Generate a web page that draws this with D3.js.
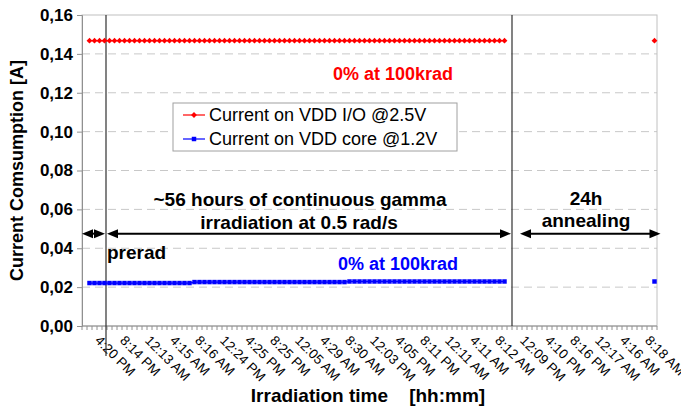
<!DOCTYPE html>
<html>
<head>
<meta charset="utf-8">
<script src="https://cdn.jsdelivr.net/npm/d3@7/dist/d3.min.js"></script>
<style>
  body { margin: 0; background: #fff; }
  svg { display: block; font-family: "Liberation Sans", Arial, sans-serif; }
</style>
</head>
<body>
<svg id="chart" width="681" height="409"></svg>
<script>
// Supply current per sampling slot (one slot ≈ 48 min); null = no measurement.
const ioCurrent = [
  null,
  0.1468, 0.1468, 0.1468, 0.1468, 0.1468, 0.1468, 0.1468, 0.1468, 0.1468, 0.1468, 0.1468, 0.1468,
  0.1468, 0.1468, 0.1468, 0.1468, 0.1468, 0.1468, 0.1468, 0.1468, 0.1468, 0.1468, 0.1468, 0.1468,
  0.1468, 0.1468, 0.1468, 0.1468, 0.1468, 0.1468, 0.1468, 0.1468, 0.1468, 0.1468, 0.1468, 0.1468,
  0.1468, 0.1468, 0.1468, 0.1468, 0.1468, 0.1468, 0.1468, 0.1468, 0.1468, 0.1468, 0.1468, 0.1468,
  0.1468, 0.1468, 0.1468, 0.1468, 0.1468, 0.1468, 0.1468, 0.1468, 0.1468, 0.1468, 0.1468, 0.1468,
  0.1468, 0.1468, 0.1468, 0.1468, 0.1468, 0.1468, 0.1468, 0.1468, 0.1468, 0.1468, 0.1468, 0.1468,
  0.1468, 0.1468, 0.1468, 0.1468, 0.1468, 0.1468, 0.1468, 0.1468, 0.1468, 0.1468, 0.1468, 0.1468,
  null, null, null, null, null, null, null, null, null, null,
  null, null, null, null, null, null, null, null, null, null,
  null, null, null, null, null, null, null, null, null,
  0.1468
];

const coreCurrent = [
  null,
  0.0221, 0.0221, 0.0221, 0.0221, 0.0221, 0.0221, 0.0221, 0.0221, 0.0221, 0.0221, 0.0221, 0.0221,
  0.0221, 0.0221, 0.0221, 0.0221, 0.0221, 0.0221, 0.0221, 0.0221, 0.0221,
  0.0226, 0.0226, 0.0226, 0.0226, 0.0226, 0.0226, 0.0226, 0.0226, 0.0226, 0.0226, 0.0226, 0.0226,
  0.0226, 0.0226, 0.0226, 0.0226, 0.0226, 0.0226, 0.0226, 0.0226, 0.0226, 0.0226, 0.0226, 0.0226,
  0.0226, 0.0226, 0.0226, 0.0226, 0.0226, 0.0226, 0.0226,
  0.0229, 0.0229, 0.0229, 0.0229, 0.0229, 0.0229, 0.0229, 0.0229, 0.0229, 0.0229, 0.0229, 0.0229,
  0.0229, 0.0229, 0.0229, 0.0229, 0.0229, 0.0229, 0.0229, 0.0229, 0.0229, 0.0229, 0.0229, 0.0229,
  0.0229, 0.0229, 0.0229, 0.0229, 0.0229, 0.0229, 0.0229, 0.0229,
  null, null, null, null, null, null, null, null, null, null,
  null, null, null, null, null, null, null, null, null, null,
  null, null, null, null, null, null, null, null, null,
  0.0229
];

// Time-of-day labels, one every fifth slot starting at slot 4.
const timeLabels = [
  "4:20 PM", "8:14 PM", "12:13 AM", "4:15 AM", "8:16 AM", "12:24 PM",
  "4:25 PM", "8:25 PM", "12:05 AM", "4:29 AM", "8:30 AM", "12:03 PM",
  "4:05 PM", "8:11 PM", "12:11 AM", "4:11 AM", "8:12 AM", "12:09 PM",
  "4:10 PM", "8:16 PM", "12:17 AM", "4:16 AM", "8:18 AM"
];
const firstLabelSlot = 4;
const labelEvery = 5;

const yTicks = [0, 0.02, 0.04, 0.06, 0.08, 0.10, 0.12, 0.14, 0.16];

const seriesNames = ["Current on VDD I/O @2.5V", "Current on VDD core @1.2V"];
const seriesColors = ["#ff0000", "#0000ff"];

// ---------------------------------------------------------------------------
const svg = d3.select("#chart");
const plot = { left: 82, right: 657, top: 15, bottom: 326 };
const nSlots = ioCurrent.length;

const x = d3.scaleBand().domain(d3.range(nSlots)).range([plot.left, plot.right]);
const cx = i => x(i) + x.bandwidth() / 2;
const xs = d3.scaleLinear().domain([0, nSlots]).range([plot.left, plot.right]); // slot boundaries
const y = d3.scaleLinear().domain([0, 0.16]).range([plot.bottom, plot.top]);

const commaLocale = d3.formatLocale({ decimal: ",", thousands: ".", grouping: [3], currency: ["", ""] });
const fmtY = commaLocale.format(".2f");

// gridlines
svg.append("g").selectAll("line")
  .data(yTicks.filter(t => t > 0 && t < 0.16))
  .join("line")
  .attr("x1", plot.left).attr("x2", plot.right)
  .attr("y1", d => y(d)).attr("y2", d => y(d))
  .attr("stroke", "#c8c8c8").attr("stroke-width", 1)
  .attr("stroke-dasharray", "8,5");

// plot border
svg.append("rect")
  .attr("x", plot.left).attr("y", plot.top)
  .attr("width", plot.right - plot.left).attr("height", plot.bottom - plot.top)
  .attr("fill", "none").attr("stroke", "#c0c0c0");

// y axis
const yAxis = d3.axisLeft(y).tickValues(yTicks).tickFormat(fmtY).tickSize(5).tickPadding(4);
const gy = svg.append("g").attr("transform", `translate(${plot.left},0)`).call(yAxis);
gy.select(".domain").attr("stroke", "#909090");
gy.selectAll(".tick line").attr("stroke", "#909090");
gy.selectAll(".tick text")
  .attr("font-family", "'Liberation Sans', Arial, sans-serif")
  .attr("font-size", 17).attr("font-weight", "bold").attr("fill", "#000");

// x axis: slot-boundary ticks, rotated time labels
const gx = svg.append("g");
gx.append("line")
  .attr("x1", plot.left).attr("x2", plot.right)
  .attr("y1", plot.bottom).attr("y2", plot.bottom)
  .attr("stroke", "#909090");
gx.selectAll("line.minor")
  .data(d3.range(nSlots + 1))
  .join("line").attr("class", "minor")
  .attr("x1", d => xs(d)).attr("x2", d => xs(d))
  .attr("y1", plot.bottom).attr("y2", plot.bottom + 4)
  .attr("stroke", "#909090");
gx.selectAll("text")
  .data(timeLabels)
  .join("text")
  .attr("transform", (d, k) => `translate(${cx(firstLabelSlot + k * labelEvery) - 7},338) rotate(45)`)
  .attr("dy", "0.35em")
  .attr("font-size", 13.5)
  .attr("fill", "#000")
  .text(d => d);

// phase separators
const preradEnd = xs(4.8), irradEnd = xs(86);
svg.append("line")
  .attr("x1", preradEnd).attr("x2", preradEnd)
  .attr("y1", plot.top).attr("y2", 356)
  .attr("stroke", "#303030").attr("stroke-width", 1.2);
svg.append("line")
  .attr("x1", irradEnd).attr("x2", irradEnd)
  .attr("y1", plot.top).attr("y2", plot.bottom)
  .attr("stroke", "#303030").attr("stroke-width", 1.2);

// series
const seriesData = [ioCurrent, coreCurrent];
const line = d3.line()
  .defined(d => d != null)
  .x((d, i) => cx(i))
  .y(d => y(d));

// diamond = square turned 45°, as in the legend key
const markerShapes = [
  { sym: d3.symbol().type(d3.symbolSquare).size(17), rot: 45 },
  { sym: d3.symbol().type(d3.symbolSquare).size(20), rot: 0 }
];

seriesData.forEach((vals, s) => {
  svg.append("path")
    .datum(vals)
    .attr("d", line)
    .attr("fill", "none")
    .attr("stroke", seriesColors[s]).attr("stroke-width", 1.2);
  svg.append("g").selectAll("path")
    .data(vals.map((v, i) => ({ v, i })).filter(p => p.v != null))
    .join("path")
    .attr("transform", p => `translate(${cx(p.i)},${y(p.v)}) rotate(${markerShapes[s].rot})`)
    .attr("d", markerShapes[s].sym())
    .attr("fill", seriesColors[s]);
});

// legend
const lg = svg.append("g").attr("transform", "translate(173,103)");
lg.append("rect").attr("width", 284).attr("height", 48)
  .attr("fill", "#fff").attr("stroke", "#a0a0a0");
seriesNames.forEach((name, s) => {
  const ly = 12 + s * 24;
  lg.append("line").attr("x1", 10).attr("x2", 32).attr("y1", ly).attr("y2", ly)
    .attr("stroke", seriesColors[s]).attr("stroke-width", 1.2);
  lg.append("path").attr("transform", `translate(21,${ly}) rotate(${markerShapes[s].rot})`)
    .attr("d", markerShapes[s].sym())
    .attr("fill", seriesColors[s]);
  lg.append("text").attr("x", 36).attr("y", ly).attr("dy", "0.35em")
    .attr("font-size", 18).attr("fill", "#000").text(name);
});

// arrows
function doubleArrow(x1, x2, yy) {
  const g = svg.append("g");
  g.append("line").attr("x1", x1 + 6).attr("x2", x2 - 6).attr("y1", yy).attr("y2", yy)
    .attr("stroke", "#000").attr("stroke-width", 2);
  g.append("path").attr("d", `M${x1},${yy}L${x1 + 11},${yy - 4.5}L${x1 + 11},${yy + 4.5}Z`).attr("fill", "#000");
  g.append("path").attr("d", `M${x2},${yy}L${x2 - 11},${yy - 4.5}L${x2 - 11},${yy + 4.5}Z`).attr("fill", "#000");
}
const arrowY = y(0.0475);
doubleArrow(plot.left, preradEnd - 1, arrowY);
doubleArrow(preradEnd + 1, irradEnd - 1, arrowY);
doubleArrow(xs(87.6), xs(115.7), arrowY);

// annotations
function label(txt, xx, yy, opts = {}) {
  svg.append("text")
    .attr("x", xx).attr("y", yy)
    .attr("text-anchor", opts.anchor || "middle")
    .attr("font-size", opts.size || 19)
    .attr("font-weight", "bold")
    .attr("fill", opts.color || "#000")
    .text(txt);
}
label("0% at 100krad", 393, 80, { color: "#ff0000", size: 18 });
label("0% at 100krad", 398, 270, { color: "#0000ff", size: 18 });
label("~56 hours of continuous gamma", 300, 206);
label("irradiation at 0.5 rad/s", 299, 229);
label("24h", 586, 205);
label("annealing", 586, 227);
label("prerad", 107, 259, { anchor: "start" });

// axis titles
svg.append("text")
  .attr("transform", `translate(23,${(plot.top + plot.bottom) / 2}) rotate(-90)`)
  .attr("text-anchor", "middle")
  .attr("font-size", 18).attr("font-weight", "bold")
  .text("Current Comsumption [A]");
svg.append("text")
  .attr("x", 368).attr("y", 402)
  .attr("text-anchor", "middle")
  .attr("font-size", 19).attr("font-weight", "bold")
  .attr("xml:space", "preserve")
  .text("Irradiation time    [hh:mm]");
</script>
</body>
</html>
